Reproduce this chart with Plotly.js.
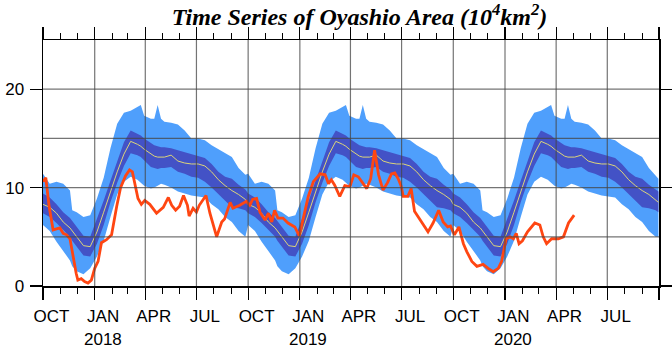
<!DOCTYPE html>
<html><head><meta charset="utf-8">
<script src="https://cdn.plot.ly/plotly-3.0.1.min.js"></script>
<style>html,body{margin:0;padding:0;background:#fff}#chart{width:672px;height:351px}</style>
</head><body><div id="chart"></div>
<script>
// climatology (one year, day offset from Oct 1), repeated for each season
const seasonStartYears = [2017, 2018, 2019];
const climDay   = [0,12,24,36,48,52,60,72,84,96,108,120,132,144,156,168,174,180,192,198,204,210,216,228,240,252,264,276,288,300,312,324,336,348,360,365];
const climMean  = [8.3,8.0,7.4,6.5,5.9,5.6,5.0,4.1,4.0,5.5,7.5,9.6,11.6,13.4,14.7,14.4,14.2,13.9,13.4,13.2,13.1,13.1,13.1,13.3,12.7,12.5,12.4,12.4,12.2,11.6,10.8,10.2,9.7,9.3,8.8,8.5];
const climSdHi  = [9.4,9.0,8.3,7.5,6.9,6.6,6.0,5.1,5.0,6.8,8.7,10.7,12.7,14.6,15.8,15.5,15.3,15.0,14.5,14.3,14.2,14.1,14.1,14.0,13.8,13.6,13.4,13.2,13.0,12.4,11.6,11.1,10.9,10.3,9.8,9.6];
const climSdLo  = [7.4,7.0,6.4,5.7,5.0,4.6,4.0,3.1,3.0,4.3,6.2,8.5,10.5,12.2,13.5,13.3,13.1,12.8,12.1,12.0,11.9,12.0,12.0,12.1,11.6,11.4,11.1,11.0,10.6,10.0,9.3,8.6,8.0,7.9,7.7,7.5];
const climMax   = [11.4,10.4,10.6,10.4,9.7,7.7,7.5,7.0,7.2,8.9,11.0,14.0,16.5,17.6,17.8,18.2,18.4,17.3,17.0,17.0,18.4,17.0,16.7,16.6,16.4,15.8,15.0,15.0,14.8,14.3,13.9,13.5,13.1,12.0,11.3,10.9];
const climMin   = [6.2,5.6,4.5,3.6,2.6,2.0,1.5,1.2,1.8,3.0,4.6,7.0,9.3,10.6,11.1,10.8,10.5,10.2,9.9,10.0,10.2,10.4,10.3,10.0,9.6,9.4,9.2,9.1,9.0,8.3,7.8,7.0,6.5,5.6,5.0,5.0];

// observed series (day offset from 2017-10-01)
const obsDay = [0,5,11,18,24,30,36,42,48,53,59,62,68,74,80,86,92,98,104,113,122,131,138,147,154,159,163,169,175,181,190,202,214,223,229,236,243,250,257,260,267,273,278,290,297,302,309,318,323,333,338,350,362,
  368,373,380,386,395,401,407,412,418,427,436,443,448,456,463,472,481,493,502,508,513,519,528,537,546,553,561,567,576,583,590,597,605,613,620,626,632,637,641,649,655,661,668,677,685,694,704,712,720,725,732,740,
  748,754,763,772,777,783,792,801,810,816,824,831,837,842,847,853,862,875,884,890,896,905,917,926,935,945];
const obsVal = [10.6,11.0,8.05,5.7,5.8,5.9,5.35,5.2,4.8,3.0,1.3,0.6,0.75,0.45,0.3,0.6,1.8,2.5,4.4,4.7,5.2,8.05,10.0,11.2,11.8,11.6,10.4,8.9,8.3,8.7,8.3,7.4,8.0,9.0,8.2,7.7,8.1,9.2,8.2,7.1,7.9,7.5,8.2,9.2,7.4,6.5,5.0,6.5,6.8,8.5,7.9,8.2,8.6,
  8.2,8.8,8.9,7.5,6.7,7.4,6.5,7.7,6.9,6.9,6.4,6.2,6.0,5.1,6.9,9.1,10.6,11.4,11.3,10.4,10.8,10.25,9.1,10.2,10.1,11.3,11.1,10.6,9.9,10.9,13.8,11.3,9.75,10.5,11.4,11.5,10.9,10.2,9.1,9.1,9.9,7.6,7.0,6.3,5.5,6.4,7.7,6.5,6.0,6.1,5.2,6.0,
  4.3,3.5,2.5,2.0,2.1,2.2,1.8,1.45,1.8,2.5,4.8,5.0,4.8,5.35,4.3,4.6,5.5,6.4,6.2,5.0,4.3,4.8,4.8,5.0,6.4,7.2];

// axis ticks and labels
const xRange = ['2017-10-01', '2020-10-01'];
const quarterTicks = ['2017-10-01','2018-01-01','2018-04-01','2018-07-01','2018-10-01','2019-01-01','2019-04-01','2019-07-01','2019-10-01','2020-01-01','2020-04-01','2020-07-01','2020-10-01'];
const monthLabelDates = ['2017-10-16','2018-01-16','2018-04-16','2018-07-16','2018-10-16','2019-01-16','2019-04-16','2019-07-16','2019-10-16','2020-01-16','2020-04-16','2020-07-16'];
const monthLabels = ['OCT','JAN','APR','JUL','OCT','JAN','APR','JUL','OCT','JAN','APR','JUL'];
const yearLabelDates = ['2018-01-16','2019-01-16','2020-01-16'];
const yearLabels = ['2018','2019','2020'];
const yTicks = [0,10,20];
const yGrid = [5,10,15,20];

function toDate(year, d){ return new Date(Date.UTC(year,9,1) + d*86400000).toISOString().slice(0,10); }

const cx=[], cm=[], chi=[], clo=[], cmax=[], cmin=[];
seasonStartYears.forEach((yr, k) => {
  climDay.forEach((d, i) => {
    if (d >= 365 && k < seasonStartYears.length-1) return;
    cx.push(toDate(yr, d)); cm.push(climMean[i]); chi.push(climSdHi[i]); clo.push(climSdLo[i]);
    cmax.push(climMax[i]); cmin.push(climMin[i]);
  });
});
const ox = obsDay.map(d => toDate(2017, d));

const light = '#4f9ffc', dark = '#4352c6';
const traces = [
  {x:cx, y:cmin, mode:'lines', line:{width:0, color:light}, hoverinfo:'skip', showlegend:false},
  {x:cx, y:cmax, mode:'lines', line:{width:0, color:light}, fill:'tonexty', fillcolor:light, hoverinfo:'skip', showlegend:false},
  {x:cx, y:clo, mode:'lines', line:{width:0, color:dark}, hoverinfo:'skip', showlegend:false},
  {x:cx, y:chi, mode:'lines', line:{width:0, color:dark}, fill:'tonexty', fillcolor:dark, hoverinfo:'skip', showlegend:false},
  {x:cx, y:cm, mode:'lines', line:{width:1, color:'#dcd47a'}, showlegend:false},
  {x:ox, y:obsVal, mode:'lines', line:{width:2.8, color:'#ff4612'}, showlegend:false},
  {x:[], y:[], xaxis:'x2', yaxis:'y', showlegend:false, hoverinfo:'skip'}
];

const gridColor = 'rgba(70,70,70,0.75)';
const shapes = [];
quarterTicks.slice(1,-1).forEach(v => shapes.push({type:'line', layer:'above', xref:'x', yref:'paper', x0:v, x1:v, y0:0, y1:1, line:{color:gridColor, width:1.2}}));
yGrid.forEach(v => shapes.push({type:'line', layer:'above', xref:'paper', yref:'y', x0:0, x1:1, y0:v, y1:v, line:{color:gridColor, width:1.2}}));

const tickFont = {family:'Liberation Sans, Arial, sans-serif', size:17, color:'#000'};
const annotations = yearLabels.map((t, i) => ({x:yearLabelDates[i], xref:'x', y:-0.262, yref:'paper', yanchor:'bottom', xanchor:'center', text:t, showarrow:false, font:tickFont, borderpad:0}));

const layout = {
  width:672, height:351,
  margin:{l:43, r:13, t:40, b:65},
  paper_bgcolor:'#fff', plot_bgcolor:'#fff',
  title:{text:'<b><i>Time Series of Oyashio Area (10<sup>4</sup>km<sup>2</sup>)</i></b>', font:{family:'Liberation Serif, Times New Roman, serif', size:24, color:'#000'}, x:0.535, xanchor:'center', y:0.952, yanchor:'middle'},
  xaxis:{type:'date', range:xRange, tickmode:'array', tickvals:quarterTicks, showticklabels:false,
    ticks:'outside', ticklen:12, tickwidth:1.2, tickcolor:'#000', showgrid:false, zeroline:false,
    showline:true, linecolor:'#000', linewidth:1.5, mirror:'ticks',
    minor:{dtick:'M1', tick0:'2017-10-01', ticks:'outside', ticklen:6, tickwidth:1, tickcolor:'#000', showgrid:false}},
  xaxis2:{type:'date', range:xRange, overlaying:'x', anchor:'y', side:'bottom', tickmode:'array', tickvals:monthLabelDates, ticktext:monthLabels,
    ticks:'', showgrid:false, zeroline:false, showline:false, tickfont:tickFont, ticklabelstandoff:18},
  yaxis:{range:[0,25], tickmode:'array', tickvals:yTicks, ticks:'outside', ticklen:12, tickwidth:1.2, tickcolor:'#000',
    showgrid:false, zeroline:false, showline:true, linecolor:'#000', linewidth:1.5, mirror:'ticks', tickfont:tickFont, ticklabelstandoff:2},
  shapes:shapes, annotations:annotations, showlegend:false
};
Plotly.newPlot('chart', traces, layout, {displayModeBar:false, staticPlot:true});
</script></body></html>
